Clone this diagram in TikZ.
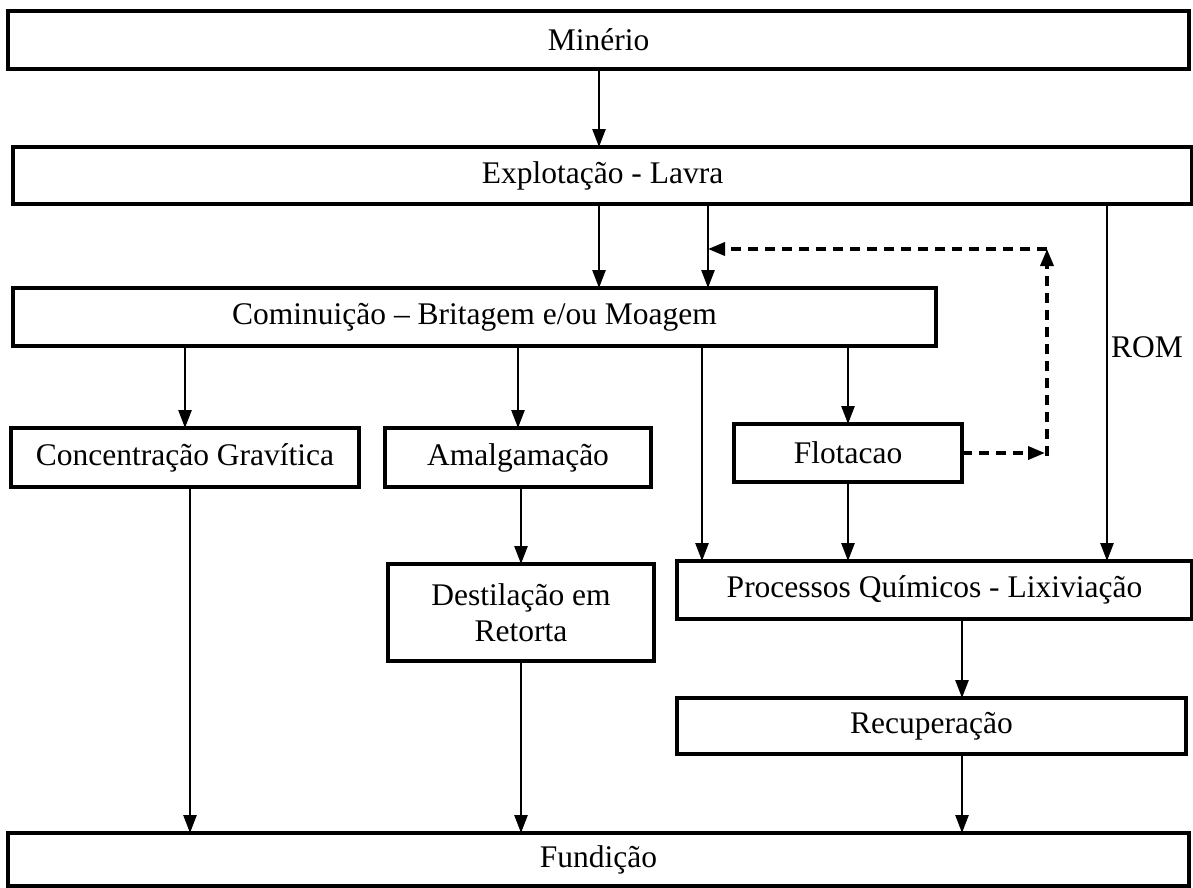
\documentclass[tikz,border=0pt]{standalone}
\usepackage{fontspec}
\setmainfont{Liberation Serif}
\usetikzlibrary{arrows.meta}
\begin{document}
\begin{tikzpicture}[x=1pt,y=-1pt,
  box/.style={draw=black,line width=3.2pt,rectangle,inner sep=0pt,outer sep=0pt,
    font=\fontsize{31.5}{36}\selectfont,align=center},
  arr/.style={line width=2.6pt,-{Triangle[length=18pt,width=13pt]}},
  darr/.style={line width=3.5pt,dash pattern=on 10pt off 7pt,-{Triangle[length=17pt,width=13pt]}},
  lbl/.style={font=\fontsize{31.5}{36}\selectfont,inner sep=0pt}]
\useasboundingbox (0,0) rectangle (1193,887);
% boxes
\node[box,minimum width=1181pt,minimum height=58pt] (min) at (598.5,40) {Minério};
\node[box,minimum width=1179pt,minimum height=57pt] (exp) at (602.5,175.5) {Explotação - Lavra};
\node[box,minimum width=923pt,minimum height=58pt] (com) at (474.5,317) {Cominuição – Britagem e/ou Moagem};
\node[box,minimum width=348pt,minimum height=59pt] (con) at (185,457.5) {Concentração Gravítica};
\node[box,minimum width=266pt,minimum height=59pt] (ama) at (518,457.5) {Amalgamação};
\node[box,minimum width=228pt,minimum height=58pt] (flo) at (848,453) {Flotacao};
\node[box,minimum width=266pt,minimum height=97pt] (des) at (521,612.5) {Destilação em\\Retorta};
\node[box,minimum width=515pt,minimum height=58pt] (pq) at (934.5,590) {Processos Químicos - Lixiviação};
\node[box,minimum width=509pt,minimum height=56pt] (rec) at (931.5,726) {Recuperação};
\node[box,minimum width=1181pt,minimum height=53pt] (fun) at (598.5,859.5) {Fundição};
\node[lbl,anchor=west] (rom) at (1111,347) {ROM};
% column coordinates
\coordinate (x599) at (599,0);
\coordinate (x708) at (708,0);
\coordinate (x1107) at (1107,0);
\coordinate (x702) at (702,0);
\coordinate (x190) at (190,0);
\coordinate (x962) at (962,0);
\coordinate (k1) at (1045,453);
\coordinate (k2) at (1047,456);
\coordinate (k3) at (1047,249);
\coordinate (k4) at (708,249);
% arrows
\draw[arr] (min.south -| x599) -- (exp.north -| x599);
\draw[arr] (exp.south -| x599) -- (com.north -| x599);
\draw[arr] (exp.south -| x708) -- (com.north -| x708);
\draw[arr] (exp.south -| x1107) -- (pq.north -| x1107);
\draw[arr] (com.south -| con) -- (con.north);
\draw[arr] (com.south -| ama) -- (ama.north);
\draw[arr] (com.south -| x702) -- (pq.north -| x702);
\draw[arr] (com.south -| flo) -- (flo.north);
\draw[arr] (ama.south -| des) -- (des.north);
\draw[arr] (flo.south) -- (pq.north -| flo);
\draw[arr] (pq.south -| x962) -- (rec.north -| x962);
\draw[arr] (rec.south -| x962) -- (fun.north -| x962);
\draw[arr] (con.south -| x190) -- (fun.north -| x190);
\draw[arr] (des.south) -- (fun.north -| des);
% dashed feedback
\draw[darr] (flo.east) -- (k1);
\draw[darr] (k2) -- (k3);
\draw[darr] (k3) -- (k4);
\end{tikzpicture}
\end{document}
